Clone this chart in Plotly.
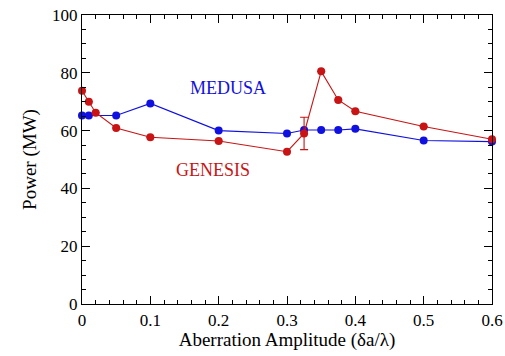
import plotly.graph_objects as go

# Aberration amplitude (δa/λ) and output power (MW)
medusa_x = [0.0, 0.01, 0.05, 0.1, 0.2, 0.3, 0.325, 0.35, 0.375, 0.4, 0.5, 0.6]
medusa_y = [65.2, 65.2, 65.2, 69.4, 60.0, 59.0, 60.2, 60.2, 60.2, 60.6, 56.6, 56.2]

genesis_x = [0.0, 0.01, 0.02, 0.05, 0.1, 0.2, 0.3, 0.325, 0.35, 0.375, 0.4, 0.5, 0.6]
genesis_y = [73.8, 70.0, 66.2, 60.9, 57.7, 56.4, 52.7, 59.0, 80.5, 70.6, 66.7, 61.4, 57.0]
genesis_err = [0, 0, 0, 0, 0, 0, 0, 5.6, 0, 0, 0, 0, 0]

BLUE = "#1010e0"
RED = "#c81414"
FONT = "'Liberation Serif', 'DejaVu Serif', serif"

fig = go.Figure()
fig.add_trace(go.Scatter(
    x=medusa_x, y=medusa_y, mode="lines+markers",
    line=dict(color=BLUE, width=1.1),
    marker=dict(color=BLUE, size=8),
    cliponaxis=False, showlegend=False,
))
fig.add_trace(go.Scatter(
    x=genesis_x, y=genesis_y, mode="lines+markers",
    line=dict(color=RED, width=1.1),
    marker=dict(color=RED, size=8),
    error_y=dict(type="data", array=genesis_err, color=RED, thickness=1.1, width=4),
    cliponaxis=False, showlegend=False,
))

fig.add_annotation(x=0.214, y=74.8, text="MEDUSA", showarrow=False,
                   font=dict(family=FONT, size=18, color=BLUE))
fig.add_annotation(x=0.192, y=46.5, text="GENESIS", showarrow=False,
                   font=dict(family=FONT, size=18, color=RED))

axis_common = dict(
    showline=True, linecolor="black", linewidth=1.2, mirror="ticks",
    ticks="inside", ticklen=8, tickcolor="black", tickwidth=1,
    showgrid=False, zeroline=False, automargin=False,
    tickfont=dict(family=FONT, size=17, color="black"),
)

fig.update_xaxes(
    range=[0, 0.6], tick0=0, dtick=0.1, tickformat="~g",
    minor=dict(ticks="inside", ticklen=4, dtick=0.02, tickcolor="black", showgrid=False),
    title=dict(text="Aberration Amplitude (δa/λ)", font=dict(family=FONT, size=19, color="black"), standoff=2),
    **axis_common,
)
fig.update_yaxes(
    range=[0, 100], tick0=0, dtick=20,
    minor=dict(ticks="inside", ticklen=4, dtick=5, tickcolor="black", showgrid=False),
    title=dict(text="Power (MW)", font=dict(family=FONT, size=19, color="black"), standoff=10),
    **axis_common,
)

fig.update_layout(
    width=505, height=356,
    margin=dict(l=82, r=13, t=15, b=52),
    paper_bgcolor="white", plot_bgcolor="white",
    font=dict(family=FONT),
)

fig.write_html("out.html")
